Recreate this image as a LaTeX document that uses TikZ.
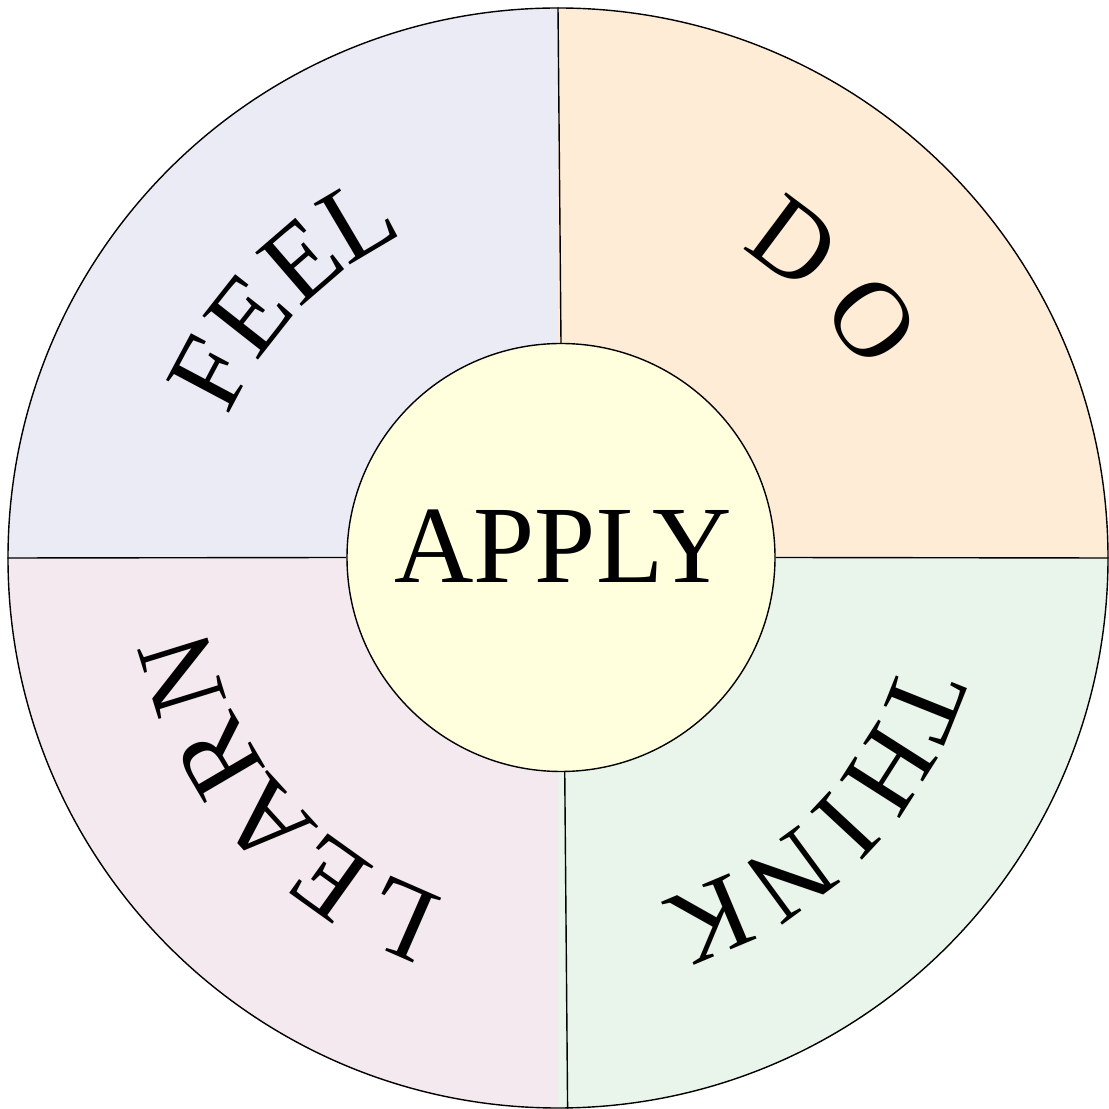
\documentclass[tikz,border=0pt]{standalone}
\usepackage{fontspec}
\setmainfont{Liberation Serif}
\definecolor{feelc}{RGB}{235,235,245}
\definecolor{doc}{RGB}{255,236,214}
\definecolor{thinkc}{RGB}{233,245,235}
\definecolor{learnc}{RGB}{245,233,240}
\definecolor{applyc}{RGB}{255,255,221}
\begin{document}
\begin{tikzpicture}[x=1pt,y=1pt,
  ringline/.style={draw=black, line width=1.4pt},
  divider/.style={draw=black, line width=1.4pt},
  letter/.style={inner sep=0pt, anchor=base, font=\fontsize{108}{120}\selectfont, rotate=#1-90}]
\useasboundingbox (0,0) rectangle (1109,1109);
\coordinate (c) at (558,551);
% quadrant fills
\fill[feelc] (c) -- ([shift={(180:550)}]c) arc[start angle=180,end angle=90,radius=550] -- cycle;
\fill[doc] (c) -- ([shift={(90:550)}]c) arc[start angle=90,end angle=0,radius=550] -- cycle;
\fill[thinkc] (c) -- ([shift={(0:550)}]c) arc[start angle=0,end angle=-90,radius=550] -- cycle;
\fill[learnc] (c) -- ([shift={(-90:550)}]c) arc[start angle=-90,end angle=-180,radius=550] -- cycle;
% circles
\node[circle, ringline, minimum size=1100pt, inner sep=0pt] (wheel) at (c) {};
\node[circle, ringline, fill=applyc, minimum size=428pt, inner sep=0pt] (apply) at (561,551.5) {};
% dividers
\draw[divider] (wheel.90.2) -- (apply.90.8);
\draw[divider] (wheel.-89.6) -- (apply.-89.7);
\draw[divider] (wheel.180.2) -- (apply.180.7);
\draw[divider] (wheel.0.1) -- (apply.0.1);
% centre text
\node[anchor=base, inner sep=0pt, font=\fontsize{110}{120}\selectfont] (applytext) at (563,526) {APPLY};
% FEEL
\node[letter=152]   (feel1) at ([shift={(152:358)}]c) {F};
\node[letter=141.8] (feel2) at ([shift={(141.8:358)}]c) {E};
\node[letter=130.8] (feel3) at ([shift={(130.8:358)}]c) {E};
\node[letter=120.6] (feel4) at ([shift={(120.6:358)}]c) {L};
% DO
\node[letter=53.2] (do1) at ([shift={(53.2:358)}]c) {D};
\node[letter=37.1] (do2) at ([shift={(37.1:358)}]c) {O};
% THINK
\node[letter=-21.8] (think1) at ([shift={(-21.8:358)}]c) {T};
\node[letter=-32.5] (think2) at ([shift={(-32.5:358)}]c) {H};
\node[letter=-42.9] (think3) at ([shift={(-42.9:358)}]c) {I};
\node[letter=-53.7] (think4) at ([shift={(-53.7:358)}]c) {N};
\node[letter=-67.2] (think5) at ([shift={(-67.2:358)}]c) {K};
% LEARN
\node[letter=246.4] (learn1) at ([shift={(246.4:358)}]c) {L};
\node[letter=234.4] (learn2) at ([shift={(234.4:358)}]c) {E};
\node[letter=222.3] (learn3) at ([shift={(222.3:358)}]c) {A};
\node[letter=210.4] (learn4) at ([shift={(210.4:358)}]c) {R};
\node[letter=197.2] (learn5) at ([shift={(197.2:358)}]c) {N};
\end{tikzpicture}
\end{document}
